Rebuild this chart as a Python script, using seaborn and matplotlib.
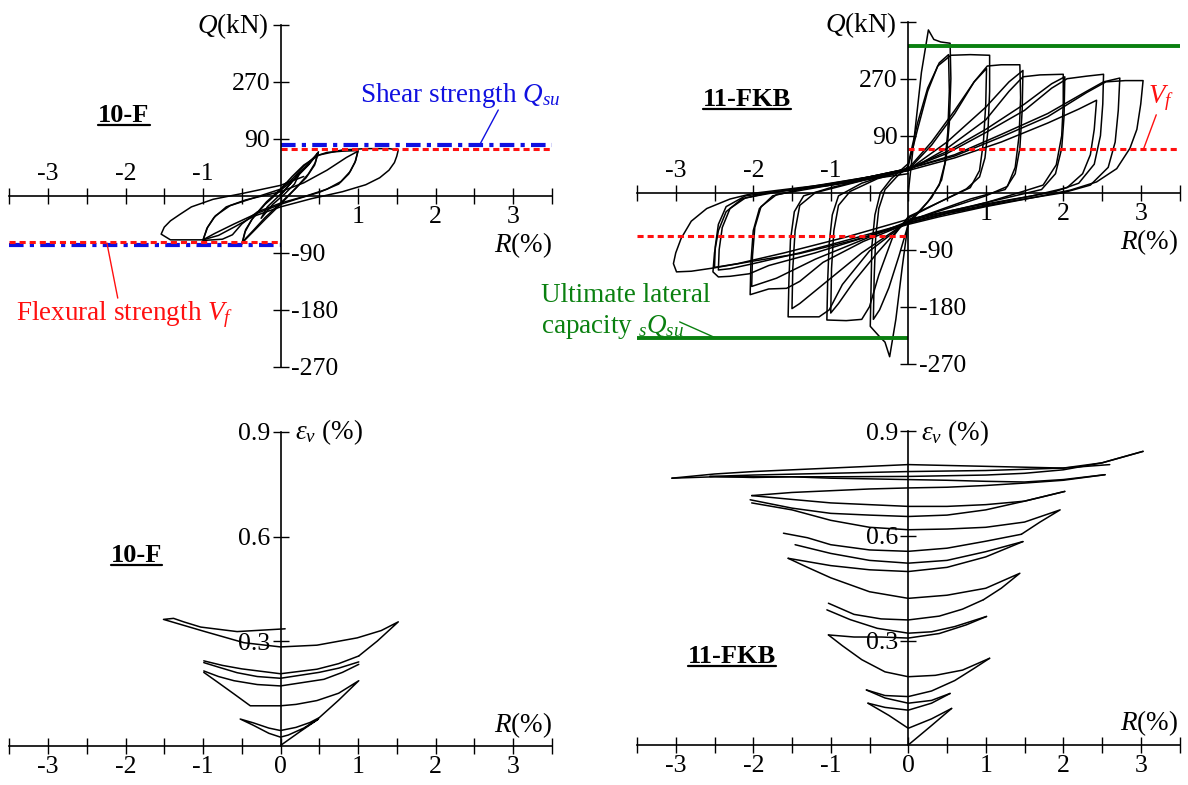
import numpy as np
import pandas as pd
import matplotlib
matplotlib.use('Agg')
import matplotlib.pyplot as plt
import seaborn as sns
from matplotlib.lines import Line2D

# ---------------- data ----------------
# 10-F : shear force Q (kN) vs drift R (%)
f_q_025 = [(0, 0), (0.12, 18), (0.25, 36), (0.18, 18), (0.05, 2), (-0.1, -14), (-0.25, -36),
           (-0.17, -18), (-0.05, -4), (0.08, 12), (0.25, 36)]
f_q_05a = [(0.25, 36), (0.38, 52), (0.49, 69), (0.45, 52), (0.36, 34), (0.2, 12), (0, -12),
           (-0.2, -35), (-0.35, -55), (-0.45, -68), (-0.5, -77), (-0.46, -58), (-0.37, -38),
           (-0.2, -14), (0, 8), (0.2, 28), (0.36, 48), (0.48, 66)]
f_q_05b = [(0.48, 66), (0.44, 48), (0.33, 28), (0.17, 8), (0, -14), (-0.2, -38), (-0.36, -58),
           (-0.49, -74), (-0.45, -54), (-0.35, -34), (-0.18, -10), (0, 10), (0.15, 26)]
f_q_10a = [(0.15, 26), (0.3, 46), (0.45, 62), (0.6, 68), (0.8, 70), (1.0, 71), (0.97, 55),
           (0.9, 38), (0.78, 22), (0.6, 10), (0.35, 0), (0, -12), (-0.3, -26), (-0.5, -45),
           (-0.62, -62), (-0.75, -69), (-1.0, -71), (-0.95, -52), (-0.86, -35), (-0.7, -18),
           (-0.45, -7), (0, 6)]
f_q_10b = [(0, 6), (0.3, 20), (0.6, 40), (0.85, 60), (1.0, 70), (0.96, 52), (0.88, 34),
           (0.75, 18), (0.5, 5), (0.2, -6), (0, -14), (-0.3, -28), (-0.6, -45), (-0.85, -60),
           (-1.0, -70), (-0.94, -50), (-0.84, -32), (-0.65, -16), (-0.35, -4), (0, 10)]
f_q_15 = [(0, 10), (0.15, 30), (0.3, 48), (0.5, 64), (0.8, 72), (1.1, 74), (1.4, 74), (1.52, 72),
          (1.5, 62), (1.47, 52), (1.4, 40), (1.28, 28), (1.1, 17), (0.8, 6), (0.4, -5), (0, -18),
          (-0.35, -33), (-0.6, -50), (-0.8, -63), (-1.0, -70), (-1.25, -70), (-1.42, -70),
          (-1.54, -61), (-1.5, -50), (-1.42, -40), (-1.3, -30), (-1.15, -18), (-0.87, -6),
          (-0.5, 3), (0, 16), (0.3, 30)]

# 11-FKB : shear force Q (kN) vs drift R (%)
k_q_025 = [(0, 0), (0.08, 90), (0.17, 190), (0.26, 257), (0.33, 242), (0.42, 238), (0.54, 236),
           (0.55, 180), (0.53, 110), (0.49, 55), (0.43, 20), (0.3, -8), (0.15, -28), (0, -46),
           (-0.08, -120), (-0.16, -200), (-0.24, -259), (-0.3, -236), (-0.38, -226),
           (-0.49, -211), (-0.48, -150), (-0.47, -85), (-0.43, -35), (-0.36, 0), (-0.22, 22),
           (0, 46)]
k_q_05b = [(0, 46), (0.12, 110), (0.25, 165), (0.4, 205), (0.52, 218), (0.53, 160), (0.51, 95),
           (0.47, 45), (0.4, 12), (0.25, -15), (0, -50), (-0.12, -100), (-0.25, -150),
           (-0.37, -185), (-0.45, -200), (-0.44, -135), (-0.42, -70), (-0.38, -25), (-0.3, 5),
           (-0.15, 25), (0, 42)]
k_q_10a = [(0, 42), (0.12, 100), (0.25, 160), (0.38, 200), (0.55, 217), (0.8, 218), (1.05, 217),
           (1.05, 160), (1.03, 100), (0.99, 55), (0.92, 25), (0.75, 6), (0.4, -15), (0, -38),
           (-0.2, -70), (-0.38, -130), (-0.5, -180), (-0.6, -200), (-0.8, -202), (-1.05, -201),
           (-1.04, -140), (-1.02, -80), (-0.98, -35), (-0.9, -5), (-0.6, 15), (-0.3, 27), (0, 38)]
k_q_10b = [(0, 38), (0.3, 80), (0.6, 130), (0.85, 175), (1.01, 196), (1.0, 140), (0.97, 80),
           (0.92, 35), (0.8, 8), (0.4, -15), (0, -40), (-0.4, -95), (-0.7, -140), (-0.9, -175),
           (-1.0, -190), (-0.99, -120), (-0.96, -60), (-0.9, -20), (-0.75, 2), (-0.4, 22), (0, 36)]
k_q_15a = [(0, 36), (0.3, 75), (0.6, 125), (0.85, 175), (1.02, 200), (1.2, 202), (1.44, 202),
           (1.45, 150), (1.43, 90), (1.38, 40), (1.28, 10), (1.0, -5), (0.5, -25), (0, -45),
           (-0.5, -92), (-0.85, -145), (-1.02, -185), (-1.15, -196), (-1.55, -196),
           (-1.54, -140), (-1.52, -75), (-1.47, -30), (-1.35, -5), (-1.0, 8), (-0.4, 25), (0, 36)]
k_q_15b = [(0, 36), (0.5, 80), (1.0, 135), (1.3, 175), (1.48, 193), (1.47, 130), (1.44, 70),
           (1.38, 30), (1.25, 5), (0.8, -10), (0, -45), (-0.6, -95), (-1.1, -145), (-1.4, -175),
           (-1.5, -183), (-1.49, -120), (-1.46, -60), (-1.4, -20), (-1.2, 0), (-0.5, 22), (0, 35)]
k_q_20a = [(0, 35), (0.5, 70), (1.0, 115), (1.3, 160), (1.48, 183), (1.7, 186), (2.0, 187),
           (2.0, 140), (1.98, 90), (1.91, 44), (1.74, 12), (1.48, 2), (1.05, -14), (0.41, -35),
           (0, -48), (-0.58, -77), (-1.1, -110), (-1.4, -140), (-1.57, -151), (-1.8, -152),
           (-2.04, -161), (-2.03, -110), (-2.0, -60), (-1.92, -25), (-1.75, -5), (-1.3, 8),
           (-0.5, 25), (0, 38)]
k_q_20b = [(0, 38), (0.5, 65), (1.0, 100), (1.5, 140), (1.85, 172), (2.02, 183), (2.01, 120),
           (1.98, 70), (1.9, 30), (1.72, 5), (1.2, -10), (0.5, -30), (0, -45), (-0.6, -75),
           (-1.2, -105), (-1.7, -135), (-2.02, -148), (-2.01, -100), (-1.98, -55), (-1.9, -22),
           (-1.7, -3), (-1.0, 12), (0, 38)]
k_q_25a = [(0, 38), (0.5, 62), (1.0, 95), (1.5, 130), (1.85, 165), (2.05, 180), (2.3, 184),
           (2.52, 187), (2.51, 140), (2.48, 90), (2.4, 45), (2.2, 15), (1.9, 2), (1.3, -12),
           (0.5, -32), (0, -47), (-0.6, -72), (-1.2, -95), (-1.8, -115), (-2.05, -128),
           (-2.3, -132), (-2.45, -133), (-2.52, -125), (-2.5, -95), (-2.45, -60), (-2.35, -30),
           (-2.15, -10), (-1.8, 0), (-1.0, 12), (0, 38)]
k_q_25b = [(0, 38), (0.6, 60), (1.2, 92), (1.8, 125), (2.3, 160), (2.52, 175), (2.73, 181),
           (2.71, 130), (2.67, 80), (2.58, 40), (2.35, 12), (2.0, 0), (1.3, -14), (0.5, -33),
           (0, -48), (-0.7, -72), (-1.4, -95), (-2.0, -112), (-2.3, -120), (-2.45, -122),
           (-2.44, -90), (-2.4, -55), (-2.3, -25), (-2.1, -8), (-1.6, 3), (-0.8, 15), (0, 38)]
k_q_25c = [(0, 35), (0.6, 55), (1.2, 80), (1.8, 110), (2.2, 132), (2.43, 146), (2.4, 100),
           (2.35, 60), (2.25, 30), (2.05, 8), (1.6, -5), (0.8, -22), (0, -42), (-0.8, -70),
           (-1.6, -95), (-2.2, -112), (-2.5, -118), (-2.49, -85), (-2.45, -50), (-2.35, -22),
           (-2.1, -5), (-1.5, 5), (0, 35)]
k_q_30 = [(0, 38), (0.6, 58), (1.2, 88), (1.8, 120), (2.3, 158), (2.55, 175), (2.8, 177),
          (3.03, 177), (3.0, 140), (2.95, 100), (2.86, 70), (2.69, 38), (2.43, 17), (2.09, 4),
          (1.6, -8), (1.0, -22), (0.4, -38), (0, -50), (-0.7, -75), (-1.4, -96), (-2.0, -108),
          (-2.52, -119), (-2.8, -124), (-2.99, -125), (-3.03, -112), (-3.0, -95), (-2.93, -72),
          (-2.8, -45), (-2.6, -25), (-2.3, -10), (-2.0, -1), (-1.4, 8), (-0.7, 18), (0, 30)]

# strength lines (kN)
qsu_10f = (79, -78)
vf_10f = (74, -73)
sqsu_11fkb = (232, -230)
vf_11fkb = (69, -68)

# 10-F : vertical strain eps_v (%) vs R (%)
f_e_1 = [(0, 0), (0.24, 0.038), (0.49, 0.076), (0.3, 0.05), (0.1, 0.03), (0, 0.024),
         (-0.15, 0.035), (-0.35, 0.058), (-0.52, 0.076), (-0.35, 0.065), (-0.15, 0.05),
         (0, 0.043), (0.2, 0.052), (0.38, 0.066), (0.5, 0.08)]
f_e_2 = [(0.5, 0.08), (0.75, 0.13), (1.01, 0.186), (0.75, 0.15), (0.47, 0.129), (0.2, 0.118),
         (0, 0.114), (-0.39, 0.114), (-0.6, 0.148), (-0.8, 0.18), (-0.99, 0.21)]
f_e_3 = [(-0.99, 0.214), (-0.8, 0.198), (-0.6, 0.186), (-0.3, 0.175), (0, 0.171), (0.56, 0.19),
         (0.8, 0.21), (1.01, 0.233)]
f_e_4 = [(1.01, 0.24), (0.75, 0.222), (0.5, 0.21), (0, 0.193), (-0.3, 0.198), (-0.56, 0.209),
         (-0.8, 0.225), (-0.99, 0.238)]
f_e_5 = [(-0.99, 0.243), (-0.75, 0.23), (-0.5, 0.22), (0, 0.206), (0.47, 0.219), (0.75, 0.235),
         (1.01, 0.257)]
f_e_6 = [(1.01, 0.257), (1.25, 0.3), (1.52, 0.355), (1.3, 0.33), (0.99, 0.309), (0.47, 0.288),
         (0, 0.283), (-0.47, 0.295), (-0.99, 0.328), (-1.25, 0.345), (-1.51, 0.362),
         (-1.38, 0.365), (-1.25, 0.355), (-1.03, 0.34), (-0.56, 0.327), (0.06, 0.335)]

# 11-FKB : vertical strain eps_v (%) vs R (%)
k_e_01 = [(0, 0), (0.28, 0.052), (0.56, 0.105)]
k_e_02 = [(0.56, 0.105), (0.3, 0.075), (0, 0.048), (-0.25, 0.085), (-0.52, 0.12)]
k_e_03 = [(-0.52, 0.12), (-0.3, 0.108), (0, 0.1), (0.3, 0.12), (0.54, 0.148)]
k_e_04 = [(0.54, 0.148), (0.3, 0.128), (0, 0.12), (-0.3, 0.135), (-0.54, 0.158)]
k_e_05 = [(-0.54, 0.158), (-0.3, 0.142), (0, 0.139), (0.3, 0.155), (0.6, 0.185), (0.85, 0.22),
          (1.05, 0.249)]
k_e_06 = [(1.05, 0.249), (0.7, 0.215), (0.35, 0.2), (0, 0.196), (-0.3, 0.21), (-0.6, 0.245),
          (-0.85, 0.285), (-1.03, 0.316)]
k_e_07 = [(-1.03, 0.316), (-0.7, 0.31), (-0.35, 0.31), (0, 0.307), (0.4, 0.32), (0.75, 0.345),
          (1.01, 0.369)]
k_e_08 = [(1.01, 0.369), (0.6, 0.34), (0.3, 0.325), (0, 0.321), (-0.4, 0.335), (-0.75, 0.36),
          (-1.05, 0.388)]
k_e_09 = [(-1.03, 0.407), (-0.7, 0.375), (-0.35, 0.362), (0, 0.359), (0.4, 0.37), (0.7, 0.39),
          (0.97, 0.417)]
k_e_10 = [(0.97, 0.417), (1.2, 0.45), (1.44, 0.493), (1.0, 0.45), (0.5, 0.43), (0, 0.421),
          (-0.5, 0.44), (-1.0, 0.48), (-1.3, 0.51), (-1.55, 0.536)]
k_e_11 = [(-1.55, 0.536), (-1.0, 0.515), (-0.5, 0.503), (0, 0.498), (0.5, 0.51), (1.0, 0.54),
          (1.48, 0.584)]
k_e_12 = [(1.48, 0.584), (1.0, 0.555), (0.5, 0.53), (0, 0.522), (-0.5, 0.53), (-1.0, 0.55),
          (-1.46, 0.575)]
k_e_13 = [(-1.61, 0.608), (-1.3, 0.595), (-1.0, 0.575), (-0.5, 0.56), (0, 0.556), (0.5, 0.565),
          (1.0, 0.585), (1.46, 0.605)]
k_e_14 = [(1.46, 0.605), (1.7, 0.64), (1.96, 0.675), (1.5, 0.64), (1.0, 0.625), (0.5, 0.62),
          (0, 0.618), (-0.5, 0.625), (-1.0, 0.645), (-1.5, 0.675), (-2.02, 0.695)]
k_e_15 = [(-2.04, 0.704), (-1.5, 0.68), (-1.0, 0.665), (-0.5, 0.66), (0, 0.656), (0.5, 0.66),
          (1.0, 0.675), (1.5, 0.7), (2.02, 0.728)]
k_e_16 = [(2.02, 0.728), (1.5, 0.7), (1.0, 0.69), (0.5, 0.685), (0, 0.685), (-0.5, 0.69),
          (-1.0, 0.695), (-1.5, 0.705), (-2.02, 0.716)]
k_e_17 = [(-2.02, 0.716), (-1.5, 0.725), (-1.0, 0.73), (-0.5, 0.735), (0, 0.738), (0.5, 0.74),
          (1.0, 0.745), (1.5, 0.752), (2.0, 0.76), (2.54, 0.776)]
k_e_18 = [(2.54, 0.776), (2.0, 0.762), (1.5, 0.755), (1.0, 0.757), (0.5, 0.76), (0, 0.762),
          (-0.5, 0.764), (-1.0, 0.766), (-1.5, 0.77), (-2.0, 0.768), (-2.56, 0.771)]
k_e_19 = [(-2.56, 0.771), (-2.0, 0.775), (-1.0, 0.78), (0, 0.785), (1.0, 0.788), (2.0, 0.795),
          (2.5, 0.81), (3.03, 0.843)]
k_e_20 = [(3.03, 0.843), (2.5, 0.81), (2.0, 0.79), (1.5, 0.78), (1.0, 0.775), (0, 0.771),
          (-1.0, 0.77), (-2.0, 0.77), (-2.5, 0.77), (-3.05, 0.766)]
k_e_21 = [(-3.05, 0.766), (-2.5, 0.778), (-2.0, 0.785), (-1.0, 0.795), (0, 0.805), (1.0, 0.8),
          (2.0, 0.795), (2.6, 0.805)]

x_ticks = np.arange(-3.5, 3.51, 0.5)

# ---------------- style ----------------
sns.set_style('white')
plt.rcParams['font.family'] = ['Liberation Serif', 'DejaVu Serif']
plt.rcParams['mathtext.fontset'] = 'custom'
plt.rcParams['mathtext.rm'] = 'Liberation Serif'
plt.rcParams['mathtext.it'] = 'Liberation Serif:italic'
plt.rcParams['mathtext.bf'] = 'Liberation Serif:bold'
plt.rcParams['axes.unicode_minus'] = False
plt.rcParams['text.color'] = 'black'
plt.rcParams['xtick.color'] = 'black'
plt.rcParams['ytick.color'] = 'black'
plt.rcParams['xtick.labelcolor'] = 'black'
plt.rcParams['ytick.labelcolor'] = 'black'

W, H = 1188, 785
fig = plt.figure(figsize=(W / 100, H / 100), dpi=100)


def frame(loops):
    rows = []
    for name, pts in loops.items():
        for i, (r, v) in enumerate(pts):
            rows.append((name, i, r, v))
    return pd.DataFrame(rows, columns=['loop', 'step', 'R', 'V'])


def draw_loops(ax, loops):
    sns.lineplot(data=frame(loops), x='R', y='V', units='loop', estimator=None, sort=False,
                 color='black', lw=1.1, ax=ax, legend=False)
    ax.set_xlabel('')
    ax.set_ylabel('')


def style_axes(ax, top):
    ax.set_xlim(-3.5, 3.5)
    for s in ['left', 'right', 'top', 'bottom']:
        ax.spines[s].set_position(('data', 0))
        ax.spines[s].set_color('black')
        ax.spines[s].set_linewidth(1.2)
    ax.spines['right'].set_visible(False)
    ax.spines['top'].set_visible(False)
    ax.spines['bottom'].set_bounds(-3.5, 3.5)
    if top:
        ax.set_ylim(-270, 270)
        ax.spines['left'].set_bounds(-270, 270)
        xl = [str(int(v)) if v == int(v) and v != 0 else '' for v in x_ticks]
        ax.set_xticks(x_ticks, xl)
        ax.set_yticks([-270, -180, -90, 90, 180, 270], ['-270', '-180', '-90', '90', '270', ''])
        ax.tick_params(axis='x', direction='inout', length=11, width=1.0, color='black',
                       bottom=True, top=False, labelbottom=True, labeltop=True,
                       labelsize=18.5, pad=2, labelcolor='black')
        ax.tick_params(axis='y', direction='inout', length=11, width=1.0, color='black',
                       left=True, right=False, labelleft=True, labelright=True,
                       labelsize=18.5, pad=2, labelcolor='black')
        for t in ax.xaxis.get_major_ticks():
            if t.get_loc() < 0:
                t.label1.set_visible(False)
            else:
                t.label2.set_visible(False)
        for t in ax.yaxis.get_major_ticks():
            if t.get_loc() < 0:
                t.label1.set_visible(False)
            else:
                t.label2.set_visible(False)
    else:
        ax.set_ylim(0, 0.9)
        ax.spines['left'].set_bounds(0, 0.9)
        xl = [str(int(v)) if v == int(v) else '' for v in x_ticks]
        ax.set_xticks(x_ticks, xl)
        ax.set_yticks([0.3, 0.6, 0.9], ['0.3', '0.6', '0.9'])
        ax.tick_params(axis='x', direction='inout', length=11, width=1.0, color='black',
                       bottom=True, top=False, labelsize=18.5, pad=2, labelcolor='black')
        ax.tick_params(axis='y', direction='inout', length=11, width=1.0, color='black',
                       left=True, right=False, labelsize=18.5, pad=2, labelcolor='black')
    ax.patch.set_alpha(0)


ax_tl = fig.add_axes([9.25 / W, 1 - 366.5 / H, 542.5 / W, 342 / H])
ax_tr = fig.add_axes([637.0 / W, 1 - 363.7 / H, 542.5 / W, 342 / H])
ax_bl = fig.add_axes([9.25 / W, 1 - 745.5 / H, 542.5 / W, 313.5 / H])
ax_br = fig.add_axes([637.0 / W, 1 - 745.0 / H, 542.5 / W, 313.5 / H])

# ---------------- top left : 10-F ----------------
draw_loops(ax_tl, {'a': f_q_025, 'b': f_q_05a, 'c': f_q_05b, 'd': f_q_10a, 'e': f_q_10b,
                   'f': f_q_15})
ax_tl.plot([0, 3.5], [qsu_10f[0]] * 2, color='#1010e0', lw=3.0, dashes=(3.5, 1.5, 1, 1.5))
ax_tl.plot([-3.5, 0], [qsu_10f[1]] * 2, color='#1010e0', lw=3.0, dashes=(3.5, 1.5, 1, 1.5))
ax_tl.plot([0, 3.5], [vf_10f[0]] * 2, color='#ff1010', lw=2.2, dashes=(2, 1.3))
ax_tl.plot([-3.5, 0], [vf_10f[1]] * 2, color='#ff1010', lw=2.2, dashes=(2, 1.3))
style_axes(ax_tl, True)
ax_tl.text(-0.16, 267, '$Q$(kN)', fontsize=19.5, ha='right', va='center')
ax_tl.text(3.5, -78, '$R$(%)', fontsize=19.5, ha='right', va='center')
ax_tl.text(1.03, 148, 'Shear strength $Q_{su}$', fontsize=19.5, color='#1010e0',
           ha='left', va='baseline')
ax_tl.plot([2.81, 2.57], [135, 80], color='#1010e0', lw=1.0, clip_on=False)
ax_tl.text(-3.41, -197, 'Flexural strength $V_f$', fontsize=19.5, color='#ff1010',
           ha='left', va='baseline')
ax_tl.plot([-2.1, -2.24], [-162, -75], color='#ff1010', lw=1.0, clip_on=False)
lab_tl = ax_tl.text(-2.02, 116.5, '10-F', fontsize=19, fontweight='bold', ha='center',
                    va='baseline')

# ---------------- top right : 11-FKB ----------------
draw_loops(ax_tr, {'a': k_q_025, 'b': k_q_05b, 'c': k_q_10a, 'd': k_q_10b, 'e': k_q_15a,
                   'f': k_q_15b, 'g': k_q_20a, 'h': k_q_20b, 'i': k_q_25a, 'j': k_q_25b,
                   'k': k_q_25c, 'l': k_q_30})
ax_tr.plot([0, 3.5], [sqsu_11fkb[0]] * 2, color='#0a8010', lw=2.8, solid_capstyle='butt')
ax_tr.plot([-3.5, 0], [sqsu_11fkb[1]] * 2, color='#0a8010', lw=2.8, solid_capstyle='butt')
ax_tr.plot([0, 3.5], [vf_11fkb[0]] * 2, color='#ff1010', lw=2.2, dashes=(2, 1.3))
ax_tr.plot([-3.5, 0], [vf_11fkb[1]] * 2, color='#ff1010', lw=2.2, dashes=(2, 1.3))
style_axes(ax_tr, True)
ax_tr.text(-0.15, 265, '$Q$(kN)', fontsize=19.5, ha='right', va='center')
ax_tr.text(3.48, -78, '$R$(%)', fontsize=19.5, ha='right', va='center')
ax_tr.text(3.1, 141, '$V_f$', fontsize=19.5, color='#ff1010', ha='left', va='baseline')
ax_tr.plot([3.2, 3.03], [123, 67], color='#ff1010', lw=1.0, clip_on=False)
ax_tr.text(-4.74, -172, 'Ultimate lateral', fontsize=19.5, color='#0a8010',
           ha='left', va='baseline')
ax_tr.text(-4.74, -221, 'capacity ${}_{s}Q_{su}$', fontsize=19.5, color='#0a8010',
           ha='left', va='baseline')
ax_tr.plot([-2.95, -2.49], [-204, -229], color='#0a8010', lw=1.0, clip_on=False)
lab_tr = ax_tr.text(-2.08, 137, '11-FKB', fontsize=19, fontweight='bold', ha='center',
                    va='baseline')

# ---------------- bottom left : 10-F strain ----------------
draw_loops(ax_bl, {'a': f_e_1, 'b': f_e_2, 'c': f_e_3, 'd': f_e_4, 'e': f_e_5, 'f': f_e_6})
style_axes(ax_bl, False)
ax_bl.text(0.19, 0.9, r'$\varepsilon_v$ (%)', fontsize=19.5, ha='left', va='center')
ax_bl.text(3.5, 0.058, '$R$(%)', fontsize=19.5, ha='right', va='center')
lab_bl = ax_bl.text(-1.86, 0.528, '10-F', fontsize=19, fontweight='bold', ha='center',
                    va='baseline')

# ---------------- bottom right : 11-FKB strain ----------------
draw_loops(ax_br, {'k01': k_e_01, 'k02': k_e_02, 'k03': k_e_03, 'k04': k_e_04, 'k05': k_e_05,
                   'k06': k_e_06, 'k07': k_e_07, 'k08': k_e_08, 'k09': k_e_09, 'k10': k_e_10,
                   'k11': k_e_11, 'k12': k_e_12, 'k13': k_e_13, 'k14': k_e_14, 'k15': k_e_15,
                   'k16': k_e_16, 'k17': k_e_17, 'k18': k_e_18, 'k19': k_e_19, 'k20': k_e_20,
                   'k21': k_e_21})
style_axes(ax_br, False)
ax_br.text(0.16, 0.895, r'$\varepsilon_v$ (%)', fontsize=19.5, ha='left', va='center')
ax_br.text(3.48, 0.062, '$R$(%)', fontsize=19.5, ha='right', va='center')
lab_br = ax_br.text(-2.27, 0.2345, '11-FKB', fontsize=19, fontweight='bold', ha='center',
                    va='baseline')

# underline the specimen names
fig.canvas.draw()
renderer = fig.canvas.get_renderer()
for ax, t in [(ax_tl, lab_tl), (ax_tr, lab_tr), (ax_bl, lab_bl), (ax_br, lab_br)]:
    bb = t.get_window_extent(renderer)
    yb = ax.transData.transform(t.get_position())[1] - 3
    fig.add_artist(Line2D([bb.x0 / W, bb.x1 / W], [yb / H, yb / H],
                          transform=fig.transFigure, color='black', lw=1.6))

fig.savefig('out.png', dpi=100)
